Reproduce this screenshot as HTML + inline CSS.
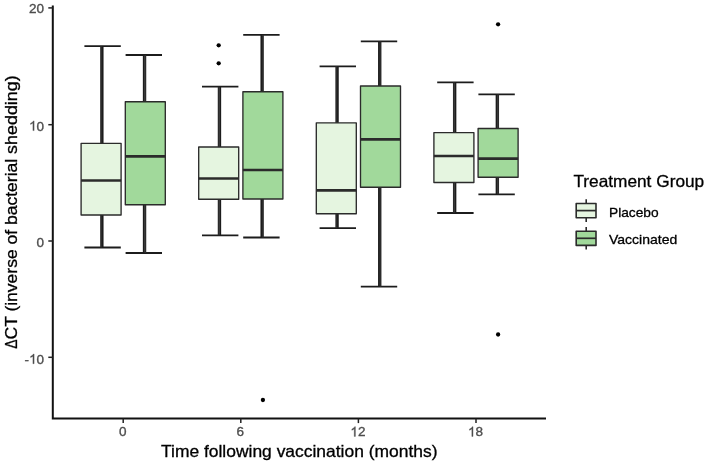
<!DOCTYPE html>
<html><head><meta charset="utf-8"><title>Boxplot</title>
<style>html,body{margin:0;padding:0;background:#fff;}body{width:708px;height:464px;overflow:hidden;font-family:"Liberation Sans",sans-serif;}</style>
</head><body>
<svg width="708" height="464" viewBox="0 0 708 464" style="display:block;font-family:'Liberation Sans',sans-serif">
<defs><filter id="soft" x="0" y="0" width="708" height="464" filterUnits="userSpaceOnUse" color-interpolation-filters="sRGB"><feGaussianBlur stdDeviation="0.3"/></filter></defs>
<rect width="708" height="464" fill="#fff"/>
<g filter="url(#soft)">
<rect width="708" height="464" fill="#fff"/>
<path d="M102.60 46.2 V247.5" stroke="#1c1c1c" stroke-width="1.9" fill="none"/>
<path d="M84.40 46.2 H120.80 M84.40 247.5 H120.80" stroke="#1c1c1c" stroke-width="1.8" fill="none"/>
<path d="M101.10 46.2 V247.5" stroke="#2b2b2b" stroke-width="1.9" fill="none"/>
<rect x="81.10" y="143.3" width="40.00" height="71.70" fill="#E5F5E0" stroke="#2b2b2b" stroke-width="1.35" stroke-linejoin="round"/>
<path d="M81.10 180.5 H121.10" stroke="#2b2b2b" stroke-width="2.7"/>
<path d="M143.80 55.0 V253.0" stroke="#1c1c1c" stroke-width="1.9" fill="none"/>
<path d="M125.60 55.0 H162.00 M125.60 253.0 H162.00" stroke="#1c1c1c" stroke-width="1.8" fill="none"/>
<path d="M145.30 55.0 V253.0" stroke="#2b2b2b" stroke-width="1.9" fill="none"/>
<rect x="125.30" y="101.7" width="40.00" height="103.00" fill="#A1D99B" stroke="#2b2b2b" stroke-width="1.35" stroke-linejoin="round"/>
<path d="M125.30 156.3 H165.30" stroke="#2b2b2b" stroke-width="2.7"/>
<path d="M220.20 86.7 V235.3" stroke="#1c1c1c" stroke-width="1.9" fill="none"/>
<path d="M202.00 86.7 H238.40 M202.00 235.3 H238.40" stroke="#1c1c1c" stroke-width="1.8" fill="none"/>
<path d="M218.70 86.7 V235.3" stroke="#2b2b2b" stroke-width="1.9" fill="none"/>
<rect x="198.70" y="147.0" width="40.00" height="52.20" fill="#E5F5E0" stroke="#2b2b2b" stroke-width="1.35" stroke-linejoin="round"/>
<path d="M198.70 178.5 H238.70" stroke="#2b2b2b" stroke-width="2.7"/>
<circle cx="218.70" cy="45.3" r="2.15" fill="#000"/>
<circle cx="218.70" cy="63.3" r="2.15" fill="#000"/>
<path d="M261.40 34.8 V237.5" stroke="#1c1c1c" stroke-width="1.9" fill="none"/>
<path d="M243.20 34.8 H279.60 M243.20 237.5 H279.60" stroke="#1c1c1c" stroke-width="1.8" fill="none"/>
<path d="M262.90 34.8 V237.5" stroke="#2b2b2b" stroke-width="1.9" fill="none"/>
<rect x="242.90" y="91.7" width="40.00" height="107.30" fill="#A1D99B" stroke="#2b2b2b" stroke-width="1.35" stroke-linejoin="round"/>
<path d="M242.90 170.0 H282.90" stroke="#2b2b2b" stroke-width="2.7"/>
<circle cx="262.90" cy="400.0" r="2.15" fill="#000"/>
<path d="M337.80 66.3 V228.2" stroke="#1c1c1c" stroke-width="1.9" fill="none"/>
<path d="M319.60 66.3 H356.00 M319.60 228.2 H356.00" stroke="#1c1c1c" stroke-width="1.8" fill="none"/>
<path d="M336.30 66.3 V228.2" stroke="#2b2b2b" stroke-width="1.9" fill="none"/>
<rect x="316.30" y="122.8" width="40.00" height="90.90" fill="#E5F5E0" stroke="#2b2b2b" stroke-width="1.35" stroke-linejoin="round"/>
<path d="M316.30 190.3 H356.30" stroke="#2b2b2b" stroke-width="2.7"/>
<path d="M379.00 41.3 V286.7" stroke="#1c1c1c" stroke-width="1.9" fill="none"/>
<path d="M360.80 41.3 H397.20 M360.80 286.7 H397.20" stroke="#1c1c1c" stroke-width="1.8" fill="none"/>
<path d="M380.50 41.3 V286.7" stroke="#2b2b2b" stroke-width="1.9" fill="none"/>
<rect x="360.50" y="86.0" width="40.00" height="101.20" fill="#A1D99B" stroke="#2b2b2b" stroke-width="1.35" stroke-linejoin="round"/>
<path d="M360.50 139.3 H400.50" stroke="#2b2b2b" stroke-width="2.7"/>
<path d="M455.40 82.3 V213.0" stroke="#1c1c1c" stroke-width="1.9" fill="none"/>
<path d="M437.20 82.3 H473.60 M437.20 213.0 H473.60" stroke="#1c1c1c" stroke-width="1.8" fill="none"/>
<path d="M453.90 82.3 V213.0" stroke="#2b2b2b" stroke-width="1.9" fill="none"/>
<rect x="433.90" y="132.6" width="40.00" height="49.90" fill="#E5F5E0" stroke="#2b2b2b" stroke-width="1.35" stroke-linejoin="round"/>
<path d="M433.90 156.0 H473.90" stroke="#2b2b2b" stroke-width="2.7"/>
<path d="M496.60 94.3 V194.3" stroke="#1c1c1c" stroke-width="1.9" fill="none"/>
<path d="M478.40 94.3 H514.80 M478.40 194.3 H514.80" stroke="#1c1c1c" stroke-width="1.8" fill="none"/>
<path d="M498.10 94.3 V194.3" stroke="#2b2b2b" stroke-width="1.9" fill="none"/>
<rect x="478.10" y="128.5" width="40.00" height="48.70" fill="#A1D99B" stroke="#2b2b2b" stroke-width="1.35" stroke-linejoin="round"/>
<path d="M478.10 158.7 H518.10" stroke="#2b2b2b" stroke-width="2.7"/>
<circle cx="498.10" cy="24.3" r="2.15" fill="#000"/>
<circle cx="498.10" cy="334.5" r="2.15" fill="#000"/>
<path d="M52.8 5.6 V419.6 M51.8 418.6 H546.0" stroke="#111" stroke-width="2.0" fill="none"/>
<path d="M48.3 7.9 H52.8" stroke="#222" stroke-width="1.5"/>
<text x="29.08" y="13.30" font-size="13.5" fill="#4D4D4D" stroke="#4D4D4D" stroke-width="0.35">2</text><text x="36.59" y="13.30" font-size="13.5" fill="#4D4D4D" stroke="#4D4D4D" stroke-width="0.35">0</text>
<path d="M48.3 124.7 H52.8" stroke="#222" stroke-width="1.5"/>
<path transform="translate(29.08 130.60) scale(0.00659 -0.00659)" d="M763 0H583V1147Q518 1085 412.5 1023T223 930V1104Q374 1175 487 1276T647 1472H763Z" fill="#4D4D4D" stroke="#4D4D4D" stroke-width="53.1"/><text x="36.59" y="130.60" font-size="13.5" fill="#4D4D4D" stroke="#4D4D4D" stroke-width="0.35">0</text>
<path d="M48.3 241.0 H52.8" stroke="#222" stroke-width="1.5"/>
<text x="36.59" y="246.60" font-size="13.5" fill="#4D4D4D" stroke="#4D4D4D" stroke-width="0.35">0</text>
<path d="M48.3 357.3 H52.8" stroke="#222" stroke-width="1.5"/>
<text x="24.59" y="363.70" font-size="13.5" fill="#4D4D4D" stroke="#4D4D4D" stroke-width="0.35">-</text><path transform="translate(29.08 363.70) scale(0.00659 -0.00659)" d="M763 0H583V1147Q518 1085 412.5 1023T223 930V1104Q374 1175 487 1276T647 1472H763Z" fill="#4D4D4D" stroke="#4D4D4D" stroke-width="53.1"/><text x="36.59" y="363.70" font-size="13.5" fill="#4D4D4D" stroke="#4D4D4D" stroke-width="0.35">0</text>
<path d="M123.20 418.6 V423.1" stroke="#222" stroke-width="1.5"/>
<text x="118.95" y="436.40" font-size="13.5" fill="#4D4D4D" stroke="#4D4D4D" stroke-width="0.35">0</text>
<path d="M240.80 418.6 V423.1" stroke="#222" stroke-width="1.5"/>
<text x="236.55" y="436.40" font-size="13.5" fill="#4D4D4D" stroke="#4D4D4D" stroke-width="0.35">6</text>
<path d="M358.40 418.6 V423.1" stroke="#222" stroke-width="1.5"/>
<path transform="translate(350.39 436.40) scale(0.00659 -0.00659)" d="M763 0H583V1147Q518 1085 412.5 1023T223 930V1104Q374 1175 487 1276T647 1472H763Z" fill="#4D4D4D" stroke="#4D4D4D" stroke-width="53.1"/><text x="357.90" y="436.40" font-size="13.5" fill="#4D4D4D" stroke="#4D4D4D" stroke-width="0.35">2</text>
<path d="M476.00 418.6 V423.1" stroke="#222" stroke-width="1.5"/>
<path transform="translate(467.99 436.40) scale(0.00659 -0.00659)" d="M763 0H583V1147Q518 1085 412.5 1023T223 930V1104Q374 1175 487 1276T647 1472H763Z" fill="#4D4D4D" stroke="#4D4D4D" stroke-width="53.1"/><text x="475.50" y="436.40" font-size="13.5" fill="#4D4D4D" stroke="#4D4D4D" stroke-width="0.35">8</text>
<text x="161.0" y="456.6" textLength="276.5" lengthAdjust="spacingAndGlyphs" font-size="16.5" fill="#000" stroke="#000" stroke-width="0.3">Time following vaccination (months)</text>
<g transform="translate(16.6 348.8) rotate(-90)" font-size="16.5" fill="#000" stroke="#000" stroke-width="0.3"><text x="0" y="0" textLength="9.3" lengthAdjust="spacingAndGlyphs">Δ</text><text x="9.3" y="0" textLength="180.7" lengthAdjust="spacingAndGlyphs">CT (inverse of bacterial</text><text x="194.9" y="0" textLength="78.6" lengthAdjust="spacingAndGlyphs">shedding)</text></g>
<text x="573.4" y="186.8" textLength="130.8" lengthAdjust="spacingAndGlyphs" font-size="16.5" fill="#000" stroke="#000" stroke-width="0.3">Treatment Group</text>
<path d="M586.2 199.29999999999998 V221.9" stroke="#2b2b2b" stroke-width="1.6"/>
<rect x="576.2" y="203.5" width="19.8" height="14.2" fill="#E5F5E0" stroke="#2b2b2b" stroke-width="1.6" stroke-linejoin="round"/>
<path d="M576.2 210.6 H596" stroke="#2b2b2b" stroke-width="1.7"/>
<text x="609.0" y="216.5" textLength="49.6" lengthAdjust="spacingAndGlyphs" font-size="13.4" fill="#000" stroke="#000" stroke-width="0.3">Placebo</text>
<path d="M586.2 227.0 V249.60000000000002" stroke="#2b2b2b" stroke-width="1.6"/>
<rect x="576.2" y="231.2" width="19.8" height="14.2" fill="#A1D99B" stroke="#2b2b2b" stroke-width="1.6" stroke-linejoin="round"/>
<path d="M576.2 238.3 H596" stroke="#2b2b2b" stroke-width="1.7"/>
<text x="609.0" y="244.2" textLength="68.2" lengthAdjust="spacingAndGlyphs" font-size="13.4" fill="#000" stroke="#000" stroke-width="0.3">Vaccinated</text>
</g>
</svg>
</body></html>
